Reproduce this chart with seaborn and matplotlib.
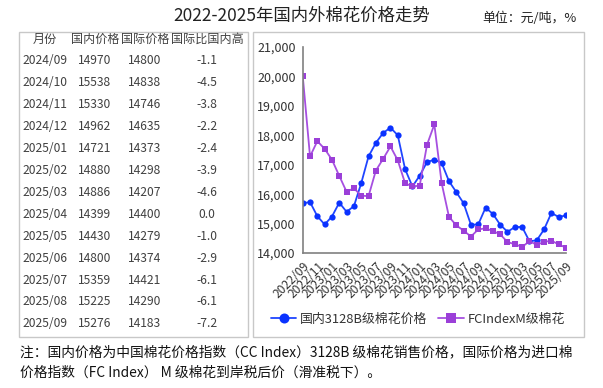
import numpy as np
import pandas as pd
import seaborn as sns
import matplotlib.pyplot as plt
from matplotlib.patches import Rectangle

# data (2022/09 .. 2025/09)
months = pd.period_range("2022-09", "2025-09", freq="M").strftime("%Y/%m").tolist()
domestic = [15690, 15730, 15250, 14970, 15240, 15710, 15400, 15590, 16370, 17280,
            17740, 18080, 18260, 18000, 16850, 16260, 16630, 17090, 17170, 17060,
            16440, 16070, 15690, 14960, 14970, 15538, 15330, 14962, 14721, 14880,
            14886, 14399, 14430, 14800, 15359, 15225, 15276]
intl = [20030, 17280, 17800, 17540, 17170, 16620, 16080, 16200, 15950, 15930,
        16800, 17200, 17620, 17150, 16370, 16260, 16290, 17680, 18370, 16370,
        15230, 14940, 14760, 14560, 14800, 14838, 14746, 14635, 14373, 14298,
        14207, 14400, 14279, 14374, 14421, 14290, 14183]

# table on the left
tbl_months = ["2024/09", "2024/10", "2024/11", "2024/12", "2025/01", "2025/02", "2025/03",
              "2025/04", "2025/05", "2025/06", "2025/07", "2025/08", "2025/09"]
tbl_dom = ["14970", "15538", "15330", "14962", "14721", "14880", "14886",
           "14399", "14430", "14800", "15359", "15225", "15276"]
tbl_intl = ["14800", "14838", "14746", "14635", "14373", "14298", "14207",
            "14400", "14279", "14374", "14421", "14290", "14183"]
tbl_diff = ["-1.1", "-4.5", "-3.8", "-2.2", "-2.4", "-3.9", "-4.6",
            "0.0", "-1.0", "-2.9", "-6.1", "-6.1", "-7.2"]
tbl_header = ["月份", "国内价格", "国际价格", "国际比国内高"]

sns.set_style("white")
plt.rcParams['font.family'] = ['Noto Sans CJK SC', 'DejaVu Sans']

W, H = 603, 388
fig = plt.figure(figsize=(W / 100, H / 100), dpi=100)

def fx(x):
    return x / W

def fy(y):
    return 1 - y / H

# panel boxes
for x0, x1 in [(19, 248), (253, 584)]:
    fig.patches.append(Rectangle((fx(x0), fy(337)), fx(x1) - fx(x0), fy(32) - fy(337),
                                 transform=fig.transFigure, fill=False,
                                 edgecolor="#c8c8c8", linewidth=1.0))

fig.text(fx(302), fy(16), "2022-2025年国内外棉花价格走势", ha="center", va="center",
         fontsize=12.5, color="#222222")
fig.text(fx(577), fy(18), "单位：元/吨，%", ha="right", va="center", fontsize=9.3, color="#222222")

# table
col_x = [45, 95, 145, 207]
txt_c = "#404040"
for cx, h in zip(col_x, tbl_header):
    fig.text(fx(cx), fy(39), h, ha="center", va="center", fontsize=8.7, color=txt_c)
for k in range(len(tbl_months)):
    ry = 61 + 21.9 * k
    fig.text(fx(22), fy(ry), tbl_months[k], ha="left", va="center", fontsize=8.7, color=txt_c)
    fig.text(fx(col_x[1]), fy(ry), tbl_dom[k], ha="center", va="center", fontsize=8.7, color=txt_c)
    fig.text(fx(col_x[2]), fy(ry), tbl_intl[k], ha="center", va="center", fontsize=8.7, color=txt_c)
    fig.text(fx(col_x[3]), fy(ry), tbl_diff[k], ha="center", va="center", fontsize=8.7, color=txt_c)

# line chart
ax = fig.add_axes([fx(302.7), fy(253), fx(566) - fx(302.7), fy(47) - fy(253)])
df = pd.DataFrame({"i": np.arange(len(months)), "dom": domestic, "intl": intl})
blue = "#1f45ff"
purple = "#a64fe0"
sns.lineplot(data=df, x="i", y="dom", ax=ax, color=blue, linewidth=1.3, marker="o",
             markersize=4.5, markeredgewidth=0, markerfacecolor="#0a32ff",
             label="国内3128B级棉花价格")
sns.lineplot(data=df, x="i", y="intl", ax=ax, color=purple, linewidth=1.3, marker="s",
             markersize=4.4, markeredgewidth=0, markerfacecolor="#9b3fd8",
             label="FCIndexM级棉花")

ax.set_xlim(0, len(months) - 1)
ax.set_ylim(14000, 21000)
ax.set_yticks(range(14000, 21001, 1000))
ax.set_yticklabels([f"{v:,}" for v in range(14000, 21001, 1000)], fontsize=9, color="#333333")
ax.set_xticks(range(len(months)))
ax.set_xticklabels([m if i % 2 == 0 else "" for i, m in enumerate(months)],
                   rotation=45, ha="right", rotation_mode="anchor", fontsize=8.7, color="#333333")
ax.tick_params(axis="both", direction="out", length=3, width=1, color="#808080", pad=2)
ax.set_xlabel("")
ax.set_ylabel("")
sns.despine(ax=ax)
for s in ["left", "bottom"]:
    ax.spines[s].set_color("#808080")
    ax.spines[s].set_linewidth(1.2)
ax.legend(loc="center", bbox_to_anchor=(fx(418), fy(319)), bbox_transform=fig.transFigure,
          ncol=2, frameon=False, fontsize=9.3, handlelength=1.95, handletextpad=0.3,
          columnspacing=0.85, labelcolor="#333333", markerscale=1.6)

# footnote
fig.text(fx(20), fy(352), "注：国内价格为中国棉花价格指数（CC Index）3128B 级棉花销售价格，国际价格为进口棉",
         ha="left", va="center", fontsize=9.9, color="#111111")
fig.text(fx(20), fy(373), "价格指数（FC Index） M 级棉花到岸税后价（滑准税下）。",
         ha="left", va="center", fontsize=9.9, color="#111111")

fig.savefig("out.png", dpi=100)
